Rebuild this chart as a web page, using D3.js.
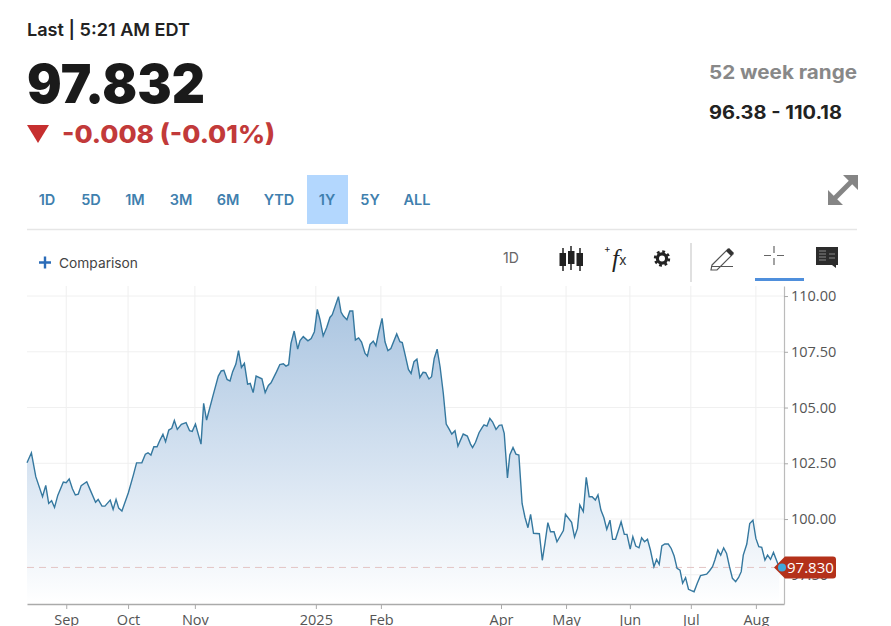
<!DOCTYPE html>
<html>
<head>
<meta charset="utf-8">
<script src="https://cdn.jsdelivr.net/npm/d3@7/dist/d3.min.js"></script>
<style>
  html, body { margin: 0; padding: 0; background: #fff; }
  svg { display: block; }
  text { font-family: Inter, "Open Sans", sans-serif; }
  .axis text { font-family: "Open Sans", sans-serif; fill: #555; }
</style>
</head>
<body>
<div id="chart"></div>
<script>
// session = trading day counted from the left edge of the chart
var sessions = [0,1.5,3,5.3,6.4,7.4,8.4,9.4,10.5,12.4,13.4,14.4,15.5,16.5,17.5,18.5,20.4,21.5,23.4,24.3,25.6,26.6,28.4,29.4,30.4,31.3,32.4,34.6,36.3,37.4,39.2,40.4,41.3,42.3,43.3,44.4,45.4,46.4,47.3,48.4,49.4,50.3,51.3,52.7,54.3,55.5,56.4,57.5,59.4,60.3,61.3,63.4,65.3,66.3,67.2,68.3,69.3,70.2,71.3,72.2,73.2,74.2,75.3,76.2,77.2,78.2,80.2,81.3,82.4,83.3,85.2,86.3,87.5,88.4,89.3,90.1,91.2,92.4,93.2,94.3,95.9,97,98.1,99.1,100,101.1,102.3,103.4,104.2,106.3,107.2,108,109.2,110.2,111.2,112.1,113.2,114.2,115.4,116.2,117.1,118.2,119.1,120.1,121.2,122.2,123.2,124.2,126.2,127.3,128.1,129.1,130.2,131.1,132.1,133.1,134.1,135.2,136.1,137.2,138.1,139,140,141,142.1,143.1,144.1,145,146.1,147.1,148.9,150.3,151.4,152.1,153.1,154.3,155.4,156,157,158,158.9,160.1,161.2,162.1,162.9,164,164.8,165.9,166.9,167.9,169,170,171,171.9,172.9,174.9,175.9,176.8,177.8,178.7,179.9,180.9,183.1,183.8,185.9,186.9,187.9,188.7,189.9,190.9,191.9,192.9,194,194.9,195.9,196.9,197.9,199,199.9,200.9,202.8,203.9,204.8,205.9,206.8,207.8,208.9,209.8,210.8,211.8,212.8,214,214.9,215.8,216.7,217.7,218.9,219.9,220.9,221.9,222.9,223.8,224.8,225.8,226.8,227.7,228.8,229.9,232,233,234,234.8,235.8,236.8,237.8,238.8,239.8,240.8,241.9,242.9,243.8,244.5,245.7,246.7,247.8,248.8,249.8,250.8,251.9,252.8,253.8,254.8,255.8,256.8];
var closes = [102.52,102.97,101.9,101,101.51,100.7,100.82,100.52,101.06,101.66,101.63,101.8,101.36,101.08,101.12,101.5,101.67,101.33,100.75,100.88,100.58,100.58,100.85,100.43,100.88,100.49,100.36,101.18,101.97,102.52,102.52,102.91,102.97,102.87,103.24,103.24,103.54,103.8,103.47,103.99,104.07,104.42,104.02,104.25,104.32,103.96,103.93,104.26,103.36,105.19,104.44,105.49,106.41,106.64,106.67,106.26,106.19,106.61,106.95,107.55,106.8,106.98,106.05,106.08,105.67,106.41,106.29,105.67,105.99,106.11,106.61,106.93,106.96,106.86,106.92,107.88,108.43,107.62,108,108.18,107.99,108.09,108.4,109.4,108.95,108.21,108.59,109.04,109.16,109.97,109.28,109.1,108.94,109.33,109.33,108.03,108.12,107.94,107.43,107.31,107.83,107.98,107.77,108.4,109,107.95,107.55,107.65,108.3,107.95,107.91,107.35,106.71,106.53,107.06,107.17,106.35,106.58,106.56,106.28,106.38,107.2,107.62,106.83,105.64,104.26,104.03,103.81,103.96,103.27,103.81,103.72,103.36,103.2,103.44,103.87,104.11,104.22,104.17,104.51,104.36,104.02,104.2,104.22,103.84,101.84,102.87,103.21,102.91,102.87,100.7,100.07,99.61,100.21,99.36,99.34,98.15,98.91,99.84,99.43,99.43,98.98,99.48,100.21,99.85,99.19,99.58,100.63,100.33,101.87,101,101,100.85,101.08,100.4,100.07,99.54,99.95,99.09,99.09,99.88,99.31,99.31,98.65,99.21,98.79,98.71,99.16,98.98,99.09,98.61,97.86,98.19,97.97,98.79,98.88,98.88,98.68,98.34,97.79,97.71,97.12,97.37,96.85,96.79,96.74,97.12,97.46,97.53,97.68,97.86,98.16,98.61,98.38,98.71,98.46,97.86,97.34,97.19,97.38,97.64,98.38,98.88,99.8,99.95,99.13,98.76,98.73,98.16,98.38,98.19,98.5,98.16,97.83];

var xTickSessions = [13.4,34.5,57.3,98.6,120.8,161.8,184,205.8,226.6,248.8];
var xTickLabels = ["Sep","Oct","Nov","2025","Feb","Apr","May","Jun","Jul","Aug"];
var yTicks = [97.5,100,102.5,105,107.5,110];
var rangeLabels = ["1D","5D","1M","3M","6M","YTD","1Y","5Y","ALL"];
var rangeCenters = [47,91,135,181,228,279,327,370,417];
var lastValue = 97.83;

var width = 891, height = 626;
var left = 27, right = 784, top_ = 286, bottom = 604;

var svg = d3.select("#chart").append("svg")
  .attr("width", width)
  .attr("height", height);

var x = d3.scaleLinear().domain([0, 258.4]).range([left, right]);
var y = d3.scaleLinear().domain([96.19, 110.45]).range([bottom, top_]);

// header
svg.append("text").attr("x", 27).attr("y", 35.5)
  .attr("font-size", 17.5).attr("font-weight", 600).attr("fill", "#222")
  .attr("textLength", 163).attr("lengthAdjust", "spacingAndGlyphs")
  .text("Last | 5:21 AM EDT");
svg.append("text").attr("x", 27).attr("y", 103)
  .attr("font-size", 53).attr("font-weight", 900).attr("fill", "#1a1a1a")
  .attr("textLength", 178).attr("lengthAdjust", "spacingAndGlyphs")
  .text("97.832");
svg.append("path").attr("d", "M27,125L49,125L38,143Z").attr("fill", "#c62f2f");
svg.append("text").attr("x", 62).attr("y", 143)
  .attr("font-size", 25).attr("font-weight", 800).attr("fill", "#c23a3a")
  .attr("textLength", 213).attr("lengthAdjust", "spacingAndGlyphs")
  .text("-0.008 (-0.01%)");
svg.append("text").attr("x", 709).attr("y", 79)
  .attr("font-size", 19).attr("font-weight", 700).attr("fill", "#888")
  .attr("textLength", 148).attr("lengthAdjust", "spacingAndGlyphs")
  .text("52 week range");
svg.append("text").attr("x", 709).attr("y", 119)
  .attr("font-size", 18.5).attr("font-weight", 700).attr("fill", "#222")
  .attr("textLength", 133).attr("lengthAdjust", "spacingAndGlyphs")
  .text("96.38 - 110.18");

// range buttons
svg.append("rect").attr("x", 307).attr("y", 175).attr("width", 41).attr("height", 49).attr("fill", "#b3d7fe");
svg.append("g").selectAll("text")
  .data(rangeLabels)
  .enter().append("text")
    .attr("x", function(d, i) { return rangeCenters[i]; })
    .attr("y", 205)
    .attr("text-anchor", "middle")
    .attr("font-size", 14.5)
    .attr("font-weight", 600)
    .attr("fill", "#3f80ae")
    .text(function(d) { return d; });
svg.append("line").attr("x1", 27).attr("x2", 857).attr("y1", 229.5).attr("y2", 229.5)
  .attr("stroke", "#e6e6e6").attr("stroke-width", 1.5);

// expand arrows
svg.append("path").attr("d", "M858,175V190L843,175ZM828,205V190L843,205Z").attr("fill", "#858585");
svg.append("line").attr("x1", 835).attr("y1", 198).attr("x2", 851).attr("y2", 182)
  .attr("stroke", "#858585").attr("stroke-width", 5);

// comparison
svg.append("path").attr("d", "M39,262.5H51M45,256.5V268.5")
  .attr("stroke", "#2b6cb8").attr("stroke-width", 2.4).attr("fill", "none");
svg.append("text").attr("x", 59).attr("y", 268)
  .attr("font-size", 13.5).attr("fill", "#444").attr("textLength", 79).attr("lengthAdjust", "spacingAndGlyphs")
  .text("Comparison");

// toolbar
svg.append("text").attr("x", 503).attr("y", 263)
  .attr("font-size", 14).attr("fill", "#666").text("1D");
svg.append("path").attr("d", "M563,248V271M571,246V270M580,248V271")
  .attr("stroke", "#222").attr("stroke-width", 1.5);
svg.append("path").attr("d", "M559.5,253H566V266H559.5ZM568,251H574.5V264H568ZM576.5,253H583V266H576.5Z")
  .attr("fill", "#222");
svg.append("text").attr("x", 604).attr("y", 252)
  .attr("font-size", 10).attr("fill", "#222").text("+");
svg.append("text").attr("x", 612).attr("y", 267)
  .attr("font-size", 25).attr("font-style", "italic").attr("fill", "#222")
  .style("font-family", "'Liberation Serif', serif").text("f");
svg.append("text").attr("x", 619).attr("y", 265)
  .attr("font-size", 14).attr("fill", "#333").text("x");
svg.append("circle").attr("cx", 662).attr("cy", 258.5).attr("r", 4.6)
  .attr("fill", "none").attr("stroke", "#222").attr("stroke-width", 3.2);
svg.append("circle").attr("cx", 662).attr("cy", 258.5).attr("r", 7)
  .attr("fill", "none").attr("stroke", "#222").attr("stroke-width", 2.4).attr("stroke-dasharray", "2.8,2.7");
svg.append("line").attr("x1", 691).attr("x2", 691).attr("y1", 243).attr("y2", 282)
  .attr("stroke", "#ccc").attr("stroke-width", 1.2);
svg.append("path").attr("d", "M712,265L728,249L733,254L717,270L711,270ZM711,266.5H733")
  .attr("fill", "none").attr("stroke", "#555").attr("stroke-width", 1.2);
svg.append("path").attr("d", "M726,251L729,248L734,253L731,256Z").attr("fill", "#333");
svg.append("path").attr("d", "M764,255.5H771M777,255.5H784M774,246V253M774,258V265")
  .attr("stroke", "#666").attr("stroke-width", 1.2);
svg.append("line").attr("x1", 755).attr("x2", 804).attr("y1", 279.5).attr("y2", 279.5)
  .attr("stroke", "#4f8fdc").attr("stroke-width", 3);
svg.append("path").attr("d", "M816,247H838V265H836V268L832,265H816Z").attr("fill", "#2c2c2c");
svg.append("path").attr("d", "M819,251H826M819,254H826M819,257H826M819,260H826M829,254H835M829,258H835")
  .attr("stroke", "#888").attr("stroke-width", 1);

// gridlines
svg.append("g").selectAll("line")
  .data(yTicks)
  .enter().append("line")
    .attr("x1", left).attr("x2", right)
    .attr("y1", function(d) { return y(d); })
    .attr("y2", function(d) { return y(d); })
    .attr("stroke", "#f0f0f0");
svg.append("g").selectAll("line")
  .data(xTickSessions)
  .enter().append("line")
    .attr("x1", function(d) { return x(d); })
    .attr("x2", function(d) { return x(d); })
    .attr("y1", top_).attr("y2", bottom)
    .attr("stroke", "#efefef");

// area + line
var points = sessions.map(function(s, i) { return {s: s, v: closes[i]}; });

var grad = svg.append("defs").append("linearGradient")
  .attr("id", "fade")
  .attr("gradientUnits", "userSpaceOnUse")
  .attr("x1", 0).attr("x2", 0).attr("y1", 296).attr("y2", bottom);
grad.append("stop").attr("offset", "0%").attr("stop-color", "#a9c4e0");
grad.append("stop").attr("offset", "55%").attr("stop-color", "#d6e3f1");
grad.append("stop").attr("offset", "100%").attr("stop-color", "#ffffff");

svg.append("path")
  .datum(points)
  .attr("fill", "url(#fade)")
  .attr("d", d3.area()
    .x(function(d) { return x(d.s); })
    .y0(bottom)
    .y1(function(d) { return y(d.v); }));

svg.append("line")
  .attr("x1", left).attr("x2", 776)
  .attr("y1", y(lastValue)).attr("y2", y(lastValue))
  .attr("stroke", "#e2c4c4").attr("stroke-dasharray", "7,5");

svg.append("path")
  .datum(points)
  .attr("fill", "none")
  .attr("stroke", "#35789f")
  .attr("stroke-width", 1.4)
  .attr("d", d3.line()
    .x(function(d) { return x(d.s); })
    .y(function(d) { return y(d.v); }));

// axes
var xAxis = svg.append("g")
  .attr("class", "axis")
  .attr("transform", "translate(0," + bottom + ")")
  .call(d3.axisBottom(x)
    .tickValues(xTickSessions)
    .tickFormat(function(d, i) { return xTickLabels[i]; })
    .tickSize(5).tickSizeOuter(0).tickPadding(6));
xAxis.select(".domain").attr("stroke", "#aaa").attr("stroke-width", 1.5);
xAxis.selectAll("line").attr("stroke", "#aaa");
xAxis.selectAll("text").attr("font-size", 14.5);

var yAxis = svg.append("g")
  .attr("class", "axis")
  .attr("transform", "translate(" + right + ",0)")
  .call(d3.axisRight(y)
    .tickValues(yTicks)
    .tickFormat(d3.format(".2f"))
    .tickSize(4).tickSizeOuter(0).tickPadding(3));
yAxis.select(".domain").attr("stroke", "#bbb").attr("stroke-width", 1.2);
yAxis.selectAll("line").attr("stroke", "#aaa");
yAxis.selectAll("text").attr("font-size", 14.5);

// last price tag
var tagY = y(lastValue);
svg.append("path")
  .attr("d", "M774," + tagY + "L785," + (tagY - 11) + "H833Q836," + (tagY - 11) + " 836," + (tagY - 8) +
    "V" + (tagY + 8) + "Q836," + (tagY + 11) + " 833," + (tagY + 11) + "H785Z")
  .attr("fill", "#b4311a");
svg.append("circle").attr("cx", 782).attr("cy", tagY).attr("r", 4).attr("fill", "#3fa8dc");
svg.append("text").attr("x", 787).attr("y", tagY + 5.5)
  .attr("font-size", 15).attr("fill", "#fff")
  .style("font-family", "'Open Sans', sans-serif")
  .text("97.830");
</script>
</body>
</html>
